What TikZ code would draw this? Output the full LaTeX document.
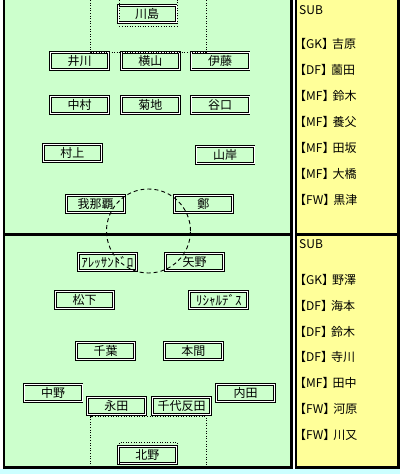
\documentclass[tikz,border=0pt]{standalone}
\usepackage{fontspec}
\setmainfont{Noto Sans CJK JP}
\usepackage{xcolor}
\usetikzlibrary{positioning}
\definecolor{pitchgreen}{HTML}{CCFFCC}
\definecolor{benchyellow}{HTML}{FFFF99}
\definecolor{stripcyan}{HTML}{CCFFFF}

\begin{document}
\begin{tikzpicture}[
      x=1pt, y=-1pt,
      node distance=26pt,
      player/.style={rectangle, draw=black, line width=1pt, double=white,
                     double distance=0.9pt, fill=pitchgreen, inner sep=0pt,
                     minimum width=58pt, minimum height=17pt,
                     font=\fontsize{12}{12}\selectfont},
      widename/.style={font=\fontsize{13}{13}\selectfont},
      sub/.style={anchor=west, inner sep=0pt, font=\fontsize{12}{13}\selectfont},
      border/.style={draw=black, line width=2.5pt},
      area/.style={draw=black, line width=0.9pt, dash pattern=on 1pt off 1.6pt},
      circ/.style={draw=black, line width=0.9pt, dash pattern=on 4pt off 3pt}
    ]
    \fill[white] (0,0) rectangle (400,474);
    \fill[stripcyan] (0,469.3) rectangle (400,474);
    \useasboundingbox (0,0) rectangle (400,474);

    % pitch and bench panel
    \fill[pitchgreen] (3.8,0) rectangle (291.3,467.7);
    \fill[benchyellow] (296.2,0) rectangle (398.5,467.7);
    \draw[border] (3.8,0) -- (3.8,467.7) -- (291.3,467.7) -- (291.3,0);
    \draw[border] (3.8,234.3) -- (291.3,234.3);
    \draw[border] (296.2,0) -- (296.2,467.7) -- (398.5,467.7) -- (398.5,0);
    \draw[border] (296.2,234.3) -- (398.5,234.3);

    % upper team
    \node[player] (kawashima) at (147,14) {川島};
    \node[player] (ikawa) at (79.7,61) {井川};
    \node[player] (yokoyama) at (150.3,61) {横山};
    \node[player] (ito) at (220,61) {伊藤};
    \node[player] (nakamura) at (79.7,105) {中村};
    \node[player] (kikuchi) at (150.3,105) {菊地};
    \node[player] (taniguchi) at (220,105) {谷口};
    \node[player] (murakami) at (72.3,153) {村上};
    \node[player] (yamagishi) at (225,155) {山岸};
    \node[player] (ganaha) at (95.7,203.7) {我那覇};
    \node[player] (tei) at (203.3,203.7) {鄭};

    % lower team
    \node[player, widename] (alessandro) at (107.3,262) {ｱﾚｯｻﾝﾄﾞﾛ};
    \node[player] (yano) at (194.5,262) {矢野};
    \node[player] (matsushita) at (84.5,300) {松下};
    \node[player, widename] (richardes) at (218.8,300) {ﾘｼｬﾙﾃﾞｽ};
    \node[player] (chiba) at (105.5,351) {千葉};
    \node[player] (homma) at (193.3,351) {本間};
    \node[player] (nakano) at (53,392.7) {中野};
    \node[player] (uchida) at (245.5,392.7) {内田};
    \node[player] (nagata) at (116.3,406) {永田};
    \node[player] (chiyotanda) at (181.5,406) {千代反田};
    \node[player] (kitano) at (147.3,454.7) {北野};

    % field markings
    \draw[area] (90.7,0) -- (90.7,52) -- (206,52) -- (206,0);
    \draw[area] (119.3,0) -- (119.3,26) -- (177.3,26) -- (177.3,0);
    \draw[area] (90.7,467) -- (90.7,416.7) -- (206,416.7) -- (206,467);
    \draw[area] (119.3,467) -- (119.3,442.3) -- (177.3,442.3) -- (177.3,467);
    \draw[circ] (148.5,231) circle[radius=42pt];

    % upper bench
    \node[sub] (subA) at (299,10) {SUB};
    \node[sub] (gkA) at (294,43.5) {【GK】\kern-2pt吉原};
    \node[sub, below=of gkA.west, anchor=west] (dfA) {【DF】\kern-2pt薗田};
    \node[sub, below=of dfA.west, anchor=west] (mfA) {【MF】\kern-2pt鈴木};
    \node[sub, below=of mfA.west, anchor=west] (mfB) {【MF】\kern-2pt養父};
    \node[sub, below=of mfB.west, anchor=west] (mfC) {【MF】\kern-2pt田坂};
    \node[sub, below=of mfC.west, anchor=west] (mfD) {【MF】\kern-2pt大橋};
    \node[sub, below=of mfD.west, anchor=west] (fwA) {【FW】\kern-2pt黒津};

    % lower bench
    \node[sub] (subB) at (299,244.5) {SUB};
    \node[sub] (gkB) at (294,280) {【GK】\kern-2pt野澤};
    \node[sub, below=25.8pt of gkB.west, anchor=west] (dfB) {【DF】\kern-2pt海本};
    \node[sub, below=25.8pt of dfB.west, anchor=west] (dfC) {【DF】\kern-2pt鈴木};
    \node[sub, below=25.8pt of dfC.west, anchor=west] (dfD) {【DF】\kern-2pt寺川};
    \node[sub, below=25.8pt of dfD.west, anchor=west] (mfE) {【MF】\kern-2pt田中};
    \node[sub, below=25.8pt of mfE.west, anchor=west] (fwB) {【FW】\kern-2pt河原};
    \node[sub, below=25.8pt of fwB.west, anchor=west] (fwC) {【FW】\kern-2pt川又};
  \end{tikzpicture}
\end{document}
